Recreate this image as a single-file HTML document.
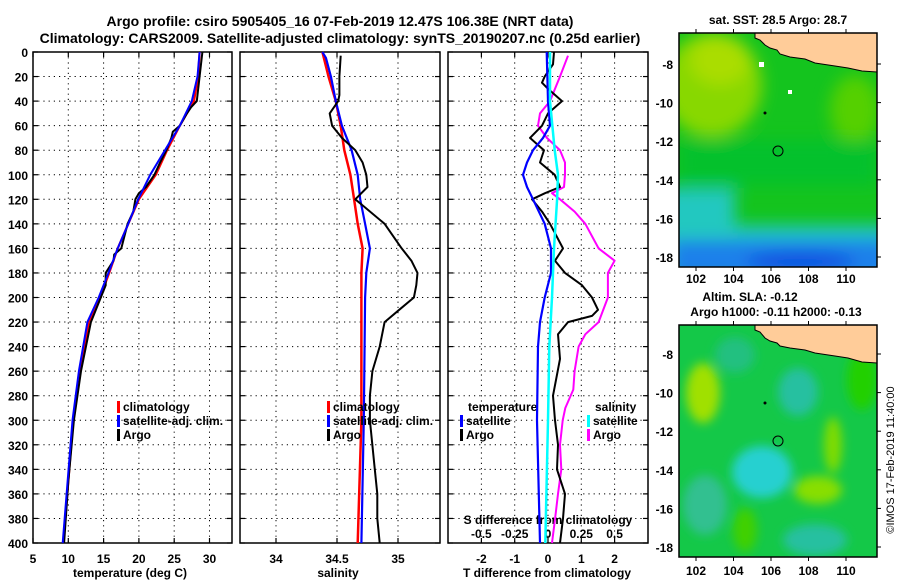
<!DOCTYPE html>
<html><head><meta charset="utf-8"><style>
html,body{margin:0;padding:0;background:#fff}
svg{display:block;font-family:"Liberation Sans",sans-serif;font-weight:bold}
</style></head><body>
<svg id="c" width="900" height="580" viewBox="0 0 900 580">
<defs>
<filter id="b1" x="-50%" y="-50%" width="200%" height="200%"><feGaussianBlur stdDeviation="8"/></filter>
<filter id="b2" x="-50%" y="-50%" width="200%" height="200%"><feGaussianBlur stdDeviation="5"/></filter>
<clipPath id="m1"><rect x="679" y="33" width="198" height="234"/></clipPath>
<clipPath id="m2"><rect x="679" y="325" width="198" height="232"/></clipPath>
</defs>
<g font-size="14" text-anchor="middle">
<text x="340" y="26">Argo profile: csiro 5905405_16 07-Feb-2019 12.47S 106.38E (NRT data)</text>
<text x="340" y="43">Climatology: CARS2009. Satellite-adjusted climatology: synTS_20190207.nc (0.25d earlier)</text>
</g>
<g id="axes"></g>
<g id="series"></g>

<!-- SST map -->
<g>
<text x="778" y="24" font-size="12" text-anchor="middle">sat. SST: 28.5 Argo: 28.7</text>
<g clip-path="url(#m1)">
<rect x="679" y="33" width="198" height="234" fill="#14c41e"/>
<g filter="url(#b1)">
<ellipse cx="712" cy="85" rx="50" ry="52" fill="#88d800"/>
<ellipse cx="720" cy="60" rx="30" ry="25" fill="#aadd00"/>
<ellipse cx="855" cy="110" rx="25" ry="35" fill="#55d000"/>
<rect x="679" y="140" width="198" height="45" fill="#06c030" opacity=".8"/>
<rect x="660" y="188" width="75" height="90" fill="#20c8c0"/>
<rect x="735" y="225" width="170" height="60" fill="#20c4c4"/>
<rect x="670" y="240" width="220" height="40" fill="#1a80ea"/>
<ellipse cx="800" cy="262" rx="55" ry="10" fill="#1050e0"/>
</g>
<path d="M755,33 L877,33 L877,72 L862,71 L848,68 L835,66 L815,63 L805,59 L790,57 L780,54 L777,50 L770,48 L765,45 L760,40 L755,38 Z" fill="#ffcc99" stroke="#000" stroke-width="1"/>
<circle cx="778" cy="151" r="5" fill="none" stroke="#000" stroke-width="1"/>
<circle cx="765" cy="113" r="1.5" fill="#000"/>
<rect x="759" y="62" width="5" height="5" fill="#fff"/><rect x="788" y="90" width="4" height="4" fill="#fff"/>
</g>
<rect x="679" y="33" width="198" height="234" fill="none" stroke="#000" stroke-width="1.5"/>
</g>

<!-- SLA map -->
<g>
<text x="750" y="301" font-size="12" text-anchor="middle">Altim. SLA: -0.12</text>
<text x="776" y="316" font-size="12" text-anchor="middle">Argo h1000: -0.11 h2000: -0.13</text>
<g clip-path="url(#m2)">
<rect x="679" y="325" width="198" height="232" fill="#14c848"/>
<g filter="url(#b2)">
<ellipse cx="703" cy="393" rx="17" ry="30" fill="#a0e000"/>
<ellipse cx="798" cy="392" rx="20" ry="24" fill="#28c0a0"/>
<ellipse cx="762" cy="472" rx="30" ry="26" fill="#28d0d0"/>
<ellipse cx="735" cy="355" rx="20" ry="18" fill="#20c080"/>
<ellipse cx="833" cy="445" rx="9" ry="28" fill="#80dc00"/>
<ellipse cx="818" cy="490" rx="24" ry="14" fill="#88de00"/>
<ellipse cx="705" cy="505" rx="22" ry="30" fill="#30c090"/>
<ellipse cx="815" cy="540" rx="32" ry="16" fill="#28c0a0"/>
<ellipse cx="745" cy="530" rx="12" ry="22" fill="#40d000"/>
<ellipse cx="862" cy="380" rx="15" ry="30" fill="#20d000"/>
</g>
<path d="M755,325 L877,325 L877,363 L862,362 L848,358 L835,356 L815,353 L805,350 L790,348 L780,346 L777,343 L770,341 L765,338 L760,332 L755,330 Z" fill="#ffcc99" stroke="#000" stroke-width="1"/>
<circle cx="778" cy="441" r="5" fill="none" stroke="#000" stroke-width="1"/>
<circle cx="765" cy="403" r="1.5" fill="#000"/>
</g>
<rect x="679" y="325" width="198" height="232" fill="none" stroke="#000" stroke-width="1.5"/>
</g>
<text transform="translate(894,460) rotate(-90)" font-size="11" font-weight="normal" text-anchor="middle">©IMOS 17-Feb-2019 11:40:00</text>
</svg>
<script>
// ---- data ----
const tClimDepth=[0,20,40,60,80,100,120,140,160,180,200,220,260,300,350,400];
const tClimVal=[28.6,28.4,27.8,25.8,24.0,22.4,20.0,18.5,17.0,15.8,14.5,12.9,11.7,10.7,10.0,9.3];
const tSatDepth=[0,20,40,60,80,100,120,140,160,180,200,220,260,300,350,400];
const tSatVal=[28.6,28.3,27.5,25.8,23.7,21.6,19.9,18.5,17.0,15.7,14.3,12.7,11.5,10.6,9.9,9.2];
const tArgoDepth=[0,10,20,30,40,45,50,60,65,70,80,90,100,110,115,120,130,140,160,165,170,180,190,200,220,260,300,350,400];
const tArgoVal=[29.0,28.8,28.6,28.4,28.2,27.4,26.8,25.8,24.8,24.6,23.9,23.0,22.2,21.0,20.0,19.5,19.2,18.4,17.5,16.5,16.4,15.3,15.3,14.6,13.2,11.8,10.8,10.0,9.4];
const sClimDepth=[0,20,40,60,80,100,120,140,160,180,200,300,400];
const sClimVal=[34.38,34.43,34.49,34.53,34.56,34.61,34.64,34.67,34.71,34.70,34.70,34.70,34.67];
const sSatDepth=[0,5,20,40,60,80,100,120,140,160,180,200,300,400];
const sSatVal=[34.38,34.41,34.45,34.49,34.54,34.62,34.67,34.69,34.73,34.77,34.74,34.73,34.72,34.70];
const sArgoDepth=[3,20,35,40,50,60,70,80,90,100,110,120,125,140,160,170,180,190,200,210,220,240,260,280,300,340,360,380,400];
const sArgoVal=[34.53,34.52,34.52,34.51,34.44,34.46,34.54,34.65,34.71,34.74,34.75,34.65,34.71,34.89,35.03,35.11,35.16,35.15,35.13,35.01,34.89,34.85,34.79,34.77,34.77,34.81,34.83,34.83,34.85];
const dTSatDepth=[0,40,60,70,80,90,100,110,120,140,160,180,200,220,240,300,400];
const dTSatVal=[-0.04,0,0.06,-0.15,-0.45,-0.63,-0.75,-0.63,-0.45,-0.1,0.09,0.09,-0.1,-0.24,-0.3,-0.33,-0.24];
const dSSatDepth=[0,40,80,100,120,160,200,240,300,400];
const dSSatVal=[0.015,0.015,0.05,0.075,0.068,0.045,0.03,0.01,0,-0.02];
const dTArgoDepth=[0,10,20,25,30,40,45,50,60,70,75,80,90,100,110,115,120,130,140,160,170,180,190,200,210,215,220,230,250,280,300,320,340,360,380,400];
const dTArgoVal=[0.18,0.15,-0.1,-0.18,0,0.42,0.21,0,-0.18,-0.54,-0.33,-0.12,-0.24,0.2,0.36,-0.09,-0.48,-0.18,0.06,0.45,0.21,0.51,1.02,1.32,1.5,1.32,0.6,0.3,0.36,0.15,0.21,0.3,0.27,0.51,0.45,0.36];
const dSArgoDepth=[3,20,40,50,60,70,80,90,100,110,115,120,130,140,160,170,180,200,220,230,240,260,275,290,300,320,340,360,380,400];
const dSArgoVal=[0.15,0.09,0.015,-0.06,-0.075,-0.008,0.09,0.128,0.128,0.12,0.03,0.09,0.2,0.28,0.38,0.5,0.45,0.45,0.38,0.28,0.23,0.2,0.19,0.13,0.11,0.09,0.1,0.075,0.053,0.03];
const depthTicks=[0,20,40,60,80,100,120,140,160,180,200,220,240,260,280,300,320,340,360,380,400];
const tTicks=[5,10,15,20,25,30];
const sTicks=[34,34.5,35];
const sTickLabels=["34","34.5","35"];
const dTTicks=[-2,-1,0,1,2];
const dSTicks=[-0.5,-0.25,0,0.25,0.5];
const dSTickLabels=["-0.5","-0.25","0","0.25","0.5"];
const latTicks=[-8,-10,-12,-14,-16,-18];
const lonTicks=[102,104,106,108,110];
// ---- scales ----
const NS="http://www.w3.org/2000/svg";
const Y0=52,Y1=543;
const yD=d=>Y0+d*(Y1-Y0)/400;
const xT=t=>33+(t-5)*7.06;
const xS=s=>337+(s-34.5)*122;
const xDT=t=>548+t*33.3;
const xDS=s=>548+s*133.2;
const P=[{x0:33,x1:232},{x0:240,x1:440},{x0:448,x1:648}];
const ax=document.getElementById('axes'),se=document.getElementById('series');
function el(tag,at,parent,txt){const e=document.createElementNS(NS,tag);for(const k in at)e.setAttribute(k,at[k]);if(txt!==undefined)e.textContent=txt;parent.appendChild(e);return e;}
function text(x,y,s,anchor,size,name){const t=el('text',{x:x,y:y,'text-anchor':anchor,'font-size':size},ax,s);

return t;}
P.forEach((p,i)=>{
 depthTicks.forEach((d,j)=>{ if(j>0&&j<depthTicks.length-1){const g=el('line',{x1:p.x0,x2:p.x1,y1:yD(d),y2:yD(d),stroke:'#000','stroke-dasharray':'1.2,4','stroke-width':1},ax);
 
 }
 el('line',{x1:p.x0,x2:p.x0+5,y1:yD(d),y2:yD(d),stroke:'#000','stroke-width':1.2},ax);
 el('line',{x1:p.x1-5,x2:p.x1,y1:yD(d),y2:yD(d),stroke:'#000','stroke-width':1.2},ax);});
});
depthTicks.forEach(d=>text(28,yD(d)+5,String(d),'end',12,'depth-tick-label'));
function vgrid(p,xs,xf){xs.forEach(v=>{const x=xf(v);const g=el('line',{x1:x,x2:x,y1:Y0,y2:Y1,stroke:'#000','stroke-dasharray':'1.2,4'},ax);
 
 
 el('line',{x1:x,x2:x,y1:Y1-5,y2:Y1,stroke:'#000','stroke-width':1.2},ax);el('line',{x1:x,x2:x,y1:Y0,y2:Y0+5,stroke:'#000','stroke-width':1.2},ax);});}
vgrid(P[0],tTicks,xT);vgrid(P[1],sTicks,xS);vgrid(P[2],dTTicks,xDT);
tTicks.forEach(t=>text(xT(t),563,String(t),'middle',12,'temperature-tick-label'));
sTicks.forEach((s,i)=>text(xS(s),563,sTickLabels[i],'middle',12,'salinity-tick-label'));
dTTicks.forEach(t=>text(xDT(t),563,String(t),'middle',12,'t-diff-tick-label'));
dSTicks.forEach((s,i)=>text(xDS(s),538,dSTickLabels[i],'middle',12,'s-diff-tick-label'));
text(548,524,'S difference from climatology','middle',12,'s-diff-axis-title');
text(130,577,'temperature (deg C)','middle',12,'x-axis-title-temperature');
text(338,577,'salinity','middle',12,'x-axis-title-salinity');
text(547,577,'T difference from climatology','middle',12,'x-axis-title-t-diff');
function line(ds,vs,xf,col,w,name){const pts=ds.map((d,i)=>xf(vs[i]).toFixed(1)+','+yD(d).toFixed(1)).join(' ');
 const l=el('polyline',{points:pts,fill:'none',stroke:col,'stroke-width':w,'stroke-linejoin':'round'},se);
 
 }
line(tClimDepth,tClimVal,xT,'#f00',2.2,'temperature-climatology-line');
line(tArgoDepth,tArgoVal,xT,'#000',2,'temperature-argo-line');
line(tSatDepth,tSatVal,xT,'#00f',2,'temperature-satellite-line');
line(sClimDepth,sClimVal,xS,'#f00',2.5,'salinity-climatology-line');
line(sSatDepth,sSatVal,xS,'#00f',2.2,'salinity-satellite-line');
line(sArgoDepth,sArgoVal,xS,'#000',2,'salinity-argo-line');
line(dSArgoDepth,dSArgoVal,xDS,'#f0f',2,'s-diff-argo-line');
line(dTArgoDepth,dTArgoVal,xDT,'#000',2,'t-diff-argo-line');
line(dTSatDepth,dTSatVal,xDT,'#00f',2.2,'t-diff-satellite-line');
line(dSSatDepth,dSSatVal,xDS,'#0ff',2.5,'s-diff-satellite-line');
P.forEach(p=>{const r=el('rect',{x:p.x0,y:Y0,width:p.x1-p.x0,height:Y1-Y0,fill:'none',stroke:'#000','stroke-width':1.5},ax);
 
 });
function leg(x,y,col,label,name){const b=el('rect',{x:x,y:y-10,width:3,height:12,fill:col},se);
 
 
 const t=el('text',{x:x+6,y:y,'font-size':12},se,label);
 
 }
leg(117,411,'#f00','climatology','legend-temp-climatology');
leg(117,425,'#00f','satellite-adj. clim.','legend-temp-satellite');
leg(117,439,'#000','Argo','legend-temp-argo');
leg(327,411,'#f00','climatology','legend-sal-climatology');
leg(327,425,'#00f','satellite-adj. clim.','legend-sal-satellite');
leg(327,439,'#000','Argo','legend-sal-argo');
text(468,411,'temperature','start',12,'legend-t-diff-heading');
leg(460,425,'#00f','satellite','legend-t-diff-satellite');
leg(460,439,'#000','Argo','legend-t-diff-argo');
text(595,411,'salinity','start',12,'legend-s-diff-heading');
leg(587,425,'#0ff','satellite','legend-s-diff-satellite');
leg(587,439,'#f0f','Argo','legend-s-diff-argo');
function mapAxes(top,bot,latY,lbl){
 latTicks.forEach((v,i)=>{const y=latY[i];text(673,y+5,String(v),'end',12,'map-lat-label');
  el('line',{x1:877,x2:881,y1:y,y2:y,stroke:'#000'},ax);});
 lonTicks.forEach(v=>{const x=696+(v-102)*18.75;text(x,lbl,String(v),'middle',12,'map-lon-label');
  el('line',{x1:x,x2:x,y1:top-4,y2:top,stroke:'#000'},ax);el('line',{x1:x,x2:x,y1:bot,y2:bot+4,stroke:'#000'},ax);});}
mapAxes(33,267,latTicks.map(v=>64+(-8-v)*19.3),283);
mapAxes(325,557,latTicks.map(v=>354+(-8-v)*19.3),575);
</script>
</body></html>
